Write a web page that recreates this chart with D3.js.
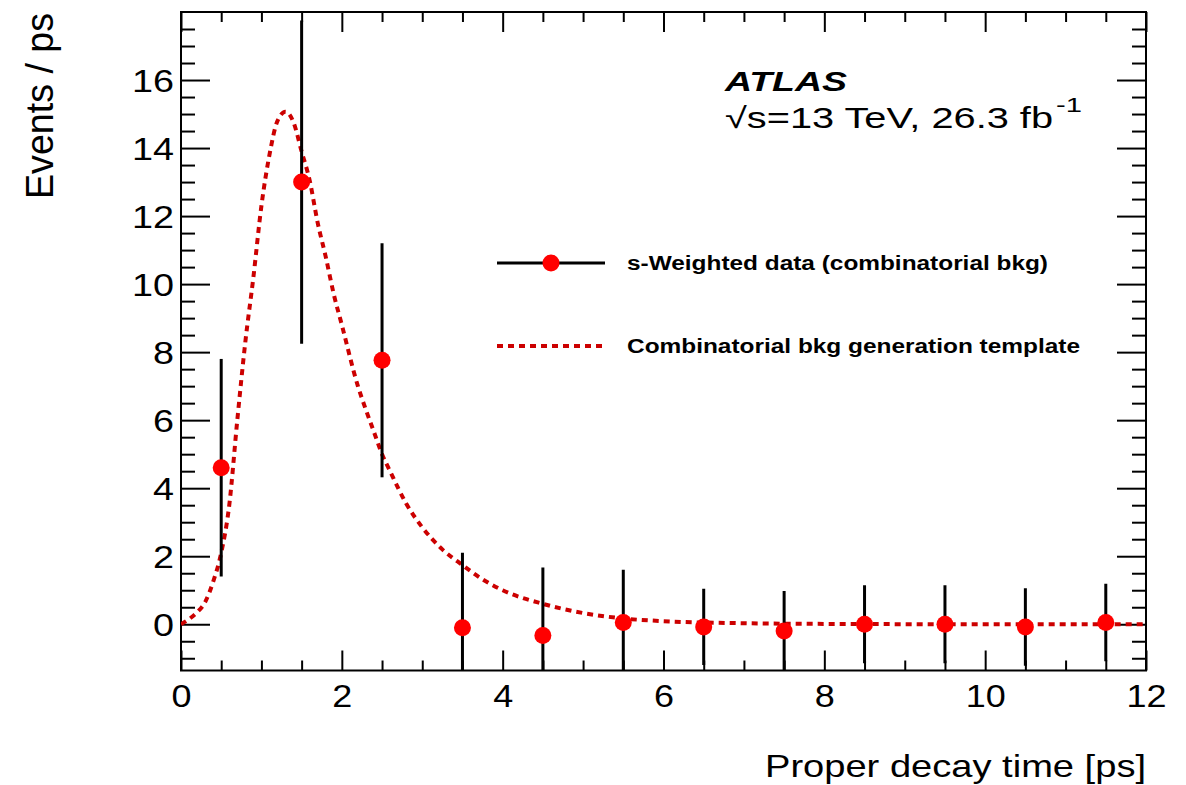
<!DOCTYPE html>
<html>
<head>
<meta charset="utf-8">
<script src="https://cdn.jsdelivr.net/npm/d3@7"></script>
<style>
  body { margin: 0; background: #fff; }
  text { font-family: "Liberation Sans", Arial, Helvetica, sans-serif; }
</style>
</head>
<body>
<svg id="plot" width="1186" height="785"></svg>
<script>
// data points (bin centres, s-weighted yields, errors)
var binCentres = [0.5, 1.5, 2.5, 3.5, 4.5, 5.5, 6.5, 7.5, 8.5, 9.5, 10.5, 11.5];
var dataVals   = [4.6, 13.0, 7.76, -0.1, -0.33, 0.05, -0.08, -0.2, 0.0, 0.0, -0.08, 0.05];
var dataErrs   = [3.2, 4.75, 3.44, 2.2, 2.0, 1.55, 1.12, 1.18, 1.15, 1.15, 1.14, 1.14];

// generation template
var tmplT = [0, 0.1, 0.2, 0.3, 0.4, 0.5, 0.6, 0.7, 0.8, 0.9, 1.0, 1.1, 1.2, 1.3, 1.4, 1.5,
             1.6, 1.7, 1.8, 1.9, 2.0, 2.2, 2.3, 2.4, 2.5, 2.6, 2.8, 3.0, 3.25, 3.5, 3.75,
             4.0, 4.5, 5.0, 5.5, 6.0, 7.0, 8.0, 10.0, 12.0];
var tmplV = [0, 0.15, 0.35, 0.65, 1.25, 2.1, 3.5, 6.0, 8.3, 10.2, 12.3, 13.8, 14.8, 15.07, 14.75, 13.9,
             13.05, 11.8, 10.8, 9.7, 8.8, 7.0, 6.3, 5.65, 5.0, 4.5, 3.55, 2.85, 2.2, 1.74, 1.32,
             1.0, 0.6, 0.33, 0.17, 0.09, 0.03, 0.01, 0, 0];

var xMajor = [0, 2, 4, 6, 8, 10, 12];
var yMajor = [0, 2, 4, 6, 8, 10, 12, 14, 16];

var legendLabels = ["s-Weighted data (combinatorial bkg)", "Combinatorial bkg generation template"];

var svg = d3.select("#plot");

var x = d3.scaleLinear().domain([0, 12]).range([181, 1146]);
var y = d3.scaleLinear().domain([-1.36, 18]).range([670.5, 12]);

var xMinor = d3.range(0, 12.01, 0.5).filter(v => xMajor.indexOf(v) < 0);
var yMinor = d3.range(-1, 17.99, 0.5).filter(v => yMajor.indexOf(v) < 0);

svg.append("clipPath").attr("id", "frame")
   .append("rect")
   .attr("x", 181).attr("y", 12)
   .attr("width", 965).attr("height", 658.5);

function tickAxis(axis, scale, vals, size, pos, fmt) {
    var a = axis(scale).tickValues(vals).tickSize(size).tickSizeOuter(0);
    if (!fmt) a.tickFormat("");
    var g = svg.append("g").attr("transform", pos).call(a);
    g.select(".domain").remove();
    g.selectAll("line").attr("stroke", "#000").attr("stroke-width", 2);
    return g;
}

// ticks, ROOT style (pointing inward)
var gl = tickAxis(d3.axisLeft, y, yMajor, -29, "translate(181,0)", true);
tickAxis(d3.axisLeft, y, yMinor, -14, "translate(181,0)");
tickAxis(d3.axisRight, y, yMajor, -29, "translate(1146,0)");
tickAxis(d3.axisRight, y, yMinor, -14, "translate(1146,0)");
var gb = tickAxis(d3.axisBottom, x, xMajor, -20, "translate(0,670.5)", true);
tickAxis(d3.axisBottom, x, xMinor, -10, "translate(0,670.5)");
tickAxis(d3.axisTop, x, xMajor, -20, "translate(0,12)");
tickAxis(d3.axisTop, x, xMinor, -10, "translate(0,12)");

// ROOT fonts come out wider than Liberation, so stretch the labels
gl.selectAll("text")
  .attr("x", -7)
  .attr("dy", "0.36em")
  .style("font-size", "32px")
  .attr("fill", "#000")
  .attr("font-family", null)
  .attr("textLength", d => String(d).length * 21)
  .attr("lengthAdjust", "spacingAndGlyphs");
gb.selectAll("text")
  .attr("y", 36)
  .attr("dy", 0)
  .style("font-size", "32px")
  .attr("fill", "#000")
  .attr("font-family", null)
  .attr("textLength", d => String(d).length * 20)
  .attr("lengthAdjust", "spacingAndGlyphs");

// frame
svg.append("rect")
   .attr("x", 181).attr("y", 12)
   .attr("width", 965).attr("height", 658.5)
   .attr("fill", "none")
   .attr("stroke", "#000")
   .attr("stroke-width", 2);

var plotArea = svg.append("g").attr("clip-path", "url(#frame)");

// template curve
var tmpl = tmplT.map((t, i) => [t, tmplV[i]]);
var line = d3.line().x(d => x(d[0])).y(d => y(d[1])).curve(d3.curveMonotoneX);

plotArea.append("path")
   .datum(tmpl)
   .attr("d", line)
   .attr("fill", "none")
   .attr("stroke", "#cc0000")
   .attr("stroke-width", 4)
   .attr("stroke-dasharray", "6,5");

// error bars
var pts = binCentres.map((c, i) => ({ c: c, v: dataVals[i], e: dataErrs[i] }));

plotArea.selectAll(".err")
   .data(pts)
   .enter()
   .append("line")
   .attr("class", "err")
   .attr("x1", d => x(d.c)).attr("x2", d => x(d.c))
   .attr("y1", d => y(d.v + d.e)).attr("y2", d => y(d.v - d.e))
   .attr("stroke", "#000")
   .attr("stroke-width", 3);

plotArea.selectAll(".pt")
   .data(pts)
   .enter()
   .append("circle")
   .attr("class", "pt")
   .attr("cx", d => x(d.c))
   .attr("cy", d => y(d.v))
   .attr("r", 8.5)
   .attr("fill", "#ff0000");

// axis titles
svg.append("text")
   .attr("transform", "translate(53,13) rotate(-90)")
   .attr("text-anchor", "end")
   .style("font-size", "38px")
   .attr("textLength", 186)
   .attr("lengthAdjust", "spacingAndGlyphs")
   .text("Events / ps");

svg.append("text")
   .attr("x", 765).attr("y", 777)
   .style("font-size", "32px")
   .attr("textLength", 381)
   .attr("lengthAdjust", "spacingAndGlyphs")
   .text("Proper decay time [ps]");

// ATLAS label
svg.append("text")
   .attr("x", 725).attr("y", 91)
   .style("font-size", "28px")
   .style("font-weight", "bold")
   .style("font-style", "italic")
   .attr("textLength", 122)
   .attr("lengthAdjust", "spacingAndGlyphs")
   .text("ATLAS");

svg.append("text")
   .attr("x", 725).attr("y", 128)
   .style("font-size", "29px")
   .attr("textLength", 328)
   .attr("lengthAdjust", "spacingAndGlyphs")
   .text("\u221As=13 TeV, 26.3 fb");
svg.append("text")
   .attr("x", 1056).attr("y", 112)
   .style("font-size", "20px")
   .attr("textLength", 26)
   .attr("lengthAdjust", "spacingAndGlyphs")
   .text("-1");

// legend
var leg = svg.append("g");
leg.append("line")
   .attr("x1", 497).attr("x2", 605)
   .attr("y1", 263).attr("y2", 263)
   .attr("stroke", "#000").attr("stroke-width", 3);
leg.append("circle")
   .attr("cx", 551).attr("cy", 263).attr("r", 8.5)
   .attr("fill", "#ff0000");
leg.append("line")
   .attr("x1", 497).attr("x2", 605)
   .attr("y1", 346).attr("y2", 346)
   .attr("stroke", "#cc0000").attr("stroke-width", 4)
   .attr("stroke-dasharray", "6,5");

leg.selectAll(".lt")
   .data(legendLabels)
   .enter()
   .append("text")
   .attr("class", "lt")
   .attr("x", 627)
   .attr("y", (d, i) => i === 0 ? 270 : 353)
   .style("font-size", "20px")
   .style("font-weight", "bold")
   .attr("textLength", (d, i) => i === 0 ? 421 : 453)
   .attr("lengthAdjust", "spacingAndGlyphs")
   .text(d => d);
</script>
</body>
</html>
